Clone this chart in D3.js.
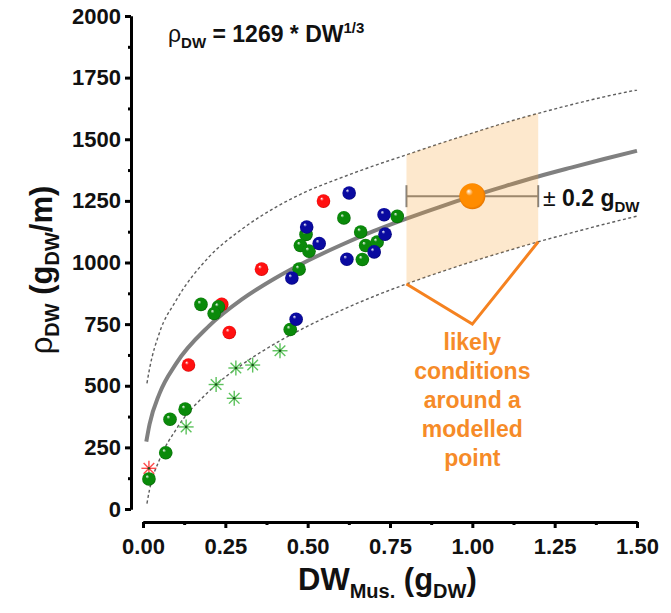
<!DOCTYPE html>
<html>
<head>
<meta charset="utf-8">
<script src="https://cdn.jsdelivr.net/npm/d3@7"></script>
<style>
  body { margin: 0; background: #fff; }
  svg { display: block; font-family: Arial, 'Liberation Sans', sans-serif; }
</style>
</head>
<body>
<svg id="chart" width="671" height="613"></svg>
<script>
// axis ticks
const xTicks = [0, 0.25, 0.5, 0.75, 1, 1.25, 1.5];
const xMinorTicks = [0.125, 0.375, 0.625, 0.875, 1.125, 1.375];
const yTicks = [0, 250, 500, 750, 1000, 1250, 1500, 1750, 2000];
const yMinorTicks = [125, 375, 625, 875, 1125, 1375, 1625, 1875];

// fitted curve rho = 1269 * DW^(1/3), read along DW
const curveDW = [0.01, 0.02, 0.05, 0.1, 0.2, 0.3, 0.4, 0.5, 0.6, 0.7, 0.8, 0.9, 1.0, 1.1, 1.2, 1.3, 1.4, 1.5];
const curveRho = [273, 344, 468, 589, 742, 850, 935, 1007, 1070, 1127, 1178, 1225, 1269, 1310, 1349, 1385, 1420, 1453];

// dashed bounds
const bandDW = [0.012, 0.02, 0.05, 0.1, 0.2, 0.3, 0.4, 0.5, 0.6, 0.7, 0.8, 0.9, 1.0, 1.1, 1.2, 1.3, 1.4, 1.5];
const bandUpper = [510, 570, 715, 845, 1022, 1135, 1222, 1290, 1343, 1392, 1437, 1482, 1525, 1567, 1605, 1640, 1672, 1700];
const bandLower = [22, 80, 200, 322, 477, 585, 670, 742, 805, 862, 913, 960, 1004, 1045, 1084, 1120, 1155, 1188];

// measured points
const redDW = [0.548, 0.36, 0.239, 0.262, 0.138];
const redRho = [1249, 973, 830, 716, 584];
const greenDW = [0.772, 0.61, 0.495, 0.478, 0.504, 0.661, 0.676, 0.711, 0.666, 0.474, 0.176, 0.229, 0.216, 0.447, 0.128, 0.082, 0.069, 0.018];
const greenRho = [1187, 1181, 1114, 1069, 1046, 1124, 1069, 1083, 1012, 973, 830, 820, 793, 728, 405, 364, 228, 122];
const blueDW = [0.626, 0.497, 0.535, 0.732, 0.735, 0.702, 0.619, 0.452, 0.465];
const blueRho = [1282, 1144, 1077, 1194, 1115, 1043, 1013, 937, 770];
const greenStarDW = [0.416, 0.282, 0.333, 0.222, 0.277, 0.131];
const greenStarRho = [642, 572, 584, 505, 449, 333];
const redStarDW = [0.018];
const redStarRho = [165];

// modelled point with its range
const modelDW = 1.0;
const modelRho = 1269;
const modelRange = [0.8, 1.2];
const calloutApex = [1.0, 750];
const calloutLines = ['likely', 'conditions', 'around a', 'modelled', 'point'];

const svg = d3.select('#chart');
const x = d3.scaleLinear().domain([0, 1.5]).range([143, 637]);
const y = d3.scaleLinear().domain([0, 2000]).range([509, 16]);

// sphere gradients
const defs = svg.append('defs');
function ballGradient(id, base, dark) {
  const g = defs.append('radialGradient')
    .attr('id', id)
    .attr('cx', 0.5).attr('cy', 0.5).attr('r', 0.55)
    .attr('fx', 0.35).attr('fy', 0.3);
  g.append('stop').attr('offset', 0).attr('stop-color', '#ffffff');
  g.append('stop').attr('offset', 0.25).attr('stop-color', base);
  g.append('stop').attr('offset', 0.8).attr('stop-color', base);
  g.append('stop').attr('offset', 1).attr('stop-color', dark);
}
ballGradient('ball-red', '#ff1010', '#b00000');
ballGradient('ball-green', '#0a8a0a', '#035003');
ballGradient('ball-blue', '#0a0aa0', '#020260');
ballGradient('ball-orange', '#ff8c00', '#d86a00');

const line = d3.line().x(d => x(d[0])).y(d => y(d[1])).curve(d3.curveMonotoneX);

// dashed bounds
[bandUpper, bandLower].forEach(vals => {
  svg.append('path')
    .attr('d', line(bandDW.map((d, i) => [d, vals[i]])))
    .attr('fill', 'none')
    .attr('stroke', '#5e5e5e')
    .attr('stroke-width', 1.4)
    .attr('stroke-dasharray', '3,2.5');
});

// main fit
svg.append('path')
  .attr('d', line(curveDW.map((d, i) => [d, curveRho[i]])))
  .attr('fill', 'none')
  .attr('stroke', '#808080')
  .attr('stroke-width', 4);

// error bar of the modelled point
const eb = svg.append('g').attr('stroke', '#808080').attr('stroke-width', 2);
eb.append('line')
  .attr('x1', x(modelRange[0])).attr('x2', x(modelRange[1]))
  .attr('y1', y(modelRho)).attr('y2', y(modelRho));
modelRange.forEach(v => {
  eb.append('line')
    .attr('x1', x(v)).attr('x2', x(v))
    .attr('y1', y(modelRho) - 11).attr('y2', y(modelRho) + 11);
});

// shaded area between the bounds
const boxIdx = bandDW.map((d, i) => i).filter(i => bandDW[i] >= modelRange[0] - 1e-9 && bandDW[i] <= modelRange[1] + 1e-9);
const area = d3.area()
  .x(i => x(bandDW[i]))
  .y0(i => y(bandLower[i]))
  .y1(i => y(bandUpper[i]))
  .curve(d3.curveMonotoneX);
svg.append('path')
  .attr('d', area(boxIdx))
  .attr('fill', '#f7a030')
  .attr('fill-opacity', 0.24);

// stars
function drawStars(dws, rhos, color) {
  dws.forEach((d, i) => {
    const g = svg.append('g').attr('transform', `translate(${x(d)},${y(rhos[i])})`);
    [0, 45, 90, 135].forEach(a => {
      g.append('line')
        .attr('x1', 0).attr('y1', -7.5).attr('x2', 0).attr('y2', 7.5)
        .attr('transform', `rotate(${a})`)
        .attr('stroke', color).attr('stroke-width', 1.4);
    });
    g.append('circle').attr('r', 1.3).attr('fill', '#1a4d1a');
  });
}
drawStars(redStarDW, redStarRho, '#ff4a4a');

// spheres
function drawBalls(dws, rhos, id, r) {
  svg.append('g')
    .selectAll('circle')
    .data(dws)
    .join('circle')
    .attr('cx', d => x(d))
    .attr('cy', (d, i) => y(rhos[i]))
    .attr('r', r)
    .attr('fill', `url(#${id})`);
}
drawBalls(redDW, redRho, 'ball-red', 6.8);
drawBalls(greenDW, greenRho, 'ball-green', 6.8);
drawBalls(blueDW, blueRho, 'ball-blue', 6.8);
drawStars(greenStarDW, greenStarRho, '#5cc25c');
drawBalls([modelDW], [modelRho], 'ball-orange', 13);

// callout
const orange = '#f58220';
svg.append('path')
  .attr('d', d3.line()([
    [x(modelRange[0]), y(bandLower[boxIdx[0]])],
    [x(calloutApex[0]), y(calloutApex[1])],
    [x(modelRange[1]), y(bandLower[boxIdx[boxIdx.length - 1]])],
  ]))
  .attr('fill', 'none')
  .attr('stroke', orange)
  .attr('stroke-width', 3);

svg.append('g')
  .selectAll('text')
  .data(calloutLines)
  .join('text')
  .attr('x', x(calloutApex[0]))
  .attr('y', (d, i) => 350 + i * 29)
  .attr('text-anchor', 'middle')
  .attr('font-size', 23)
  .attr('font-weight', 'bold')
  .attr('fill', '#f68b28')
  .text(d => d);

// +- label
const pm = svg.append('text')
  .attr('x', 543).attr('y', 206)
  .attr('font-size', 23)
  .attr('fill', '#111');
pm.append('tspan').text('±');
pm.append('tspan').attr('font-weight', 'bold').text(' 0.2 g');
pm.append('tspan').attr('font-weight', 'bold').attr('font-size', 15).attr('dy', 6).text('DW');

// axes
const axisStyle = g => {
  g.select('.domain').attr('stroke-width', 3).attr('stroke', '#000');
  g.selectAll('.tick line').attr('stroke-width', 3).attr('stroke', '#000');
  g.selectAll('.tick text')
    .attr('font-size', 22)
    .attr('font-weight', 'bold')
    .attr('font-family', "Arial, 'Liberation Sans', sans-serif")
    .attr('fill', '#111');
};

svg.append('g')
  .attr('transform', 'translate(0,522)')
  .call(d3.axisBottom(x).tickValues(xMinorTicks).tickSize(3).tickSizeOuter(0).tickFormat(''))
  .call(axisStyle);
svg.append('g')
  .attr('transform', 'translate(0,522)')
  .call(d3.axisBottom(x).tickValues(xTicks).tickSize(6).tickSizeOuter(0).tickPadding(10).tickFormat(d3.format('.2f')))
  .call(axisStyle);

svg.append('g')
  .attr('transform', 'translate(131,0)')
  .call(d3.axisLeft(y).tickValues(yMinorTicks).tickSize(3).tickSizeOuter(0).tickFormat(''))
  .call(axisStyle);
svg.append('g')
  .attr('transform', 'translate(131,0)')
  .call(d3.axisLeft(y).tickValues(yTicks).tickSize(6).tickSizeOuter(0).tickPadding(4).tickFormat(d3.format('d')))
  .call(axisStyle);

// axis titles
const yTitle = svg.append('text')
  .attr('transform', 'translate(52,270) rotate(-90)')
  .attr('text-anchor', 'middle')
  .attr('font-size', 31)
  .attr('font-weight', 'bold')
  .attr('fill', '#111');
yTitle.append('tspan').attr('font-weight', 'normal').text('ρ');
yTitle.append('tspan').attr('font-size', 20).attr('dy', 7).text('DW');
yTitle.append('tspan').attr('dy', -7).text(' (g');
yTitle.append('tspan').attr('font-size', 20).attr('dy', 7).text('DW');
yTitle.append('tspan').attr('dy', -7).text('/m)');

const xTitle = svg.append('text')
  .attr('x', 298).attr('y', 590)
  .attr('font-size', 31)
  .attr('font-weight', 'bold')
  .attr('fill', '#111');
xTitle.append('tspan').text('DW');
xTitle.append('tspan').attr('font-size', 20).attr('dy', 8).text('Mus.');
xTitle.append('tspan').attr('dy', -8).text(' (g');
xTitle.append('tspan').attr('font-size', 20).attr('dy', 8).text('DW');
xTitle.append('tspan').attr('dy', -8).text(')');

// equation
const eq = svg.append('text')
  .attr('x', 168).attr('y', 42)
  .attr('font-size', 23)
  .attr('font-weight', 'bold')
  .attr('fill', '#111');
eq.append('tspan').attr('font-weight', 'normal').text('ρ');
eq.append('tspan').attr('font-size', 15).attr('dy', 6).text('DW');
eq.append('tspan').attr('dy', -6).text(' = 1269 * DW');
eq.append('tspan').attr('font-size', 15).attr('dy', -9).text('1/3');
</script>
</body>
</html>
